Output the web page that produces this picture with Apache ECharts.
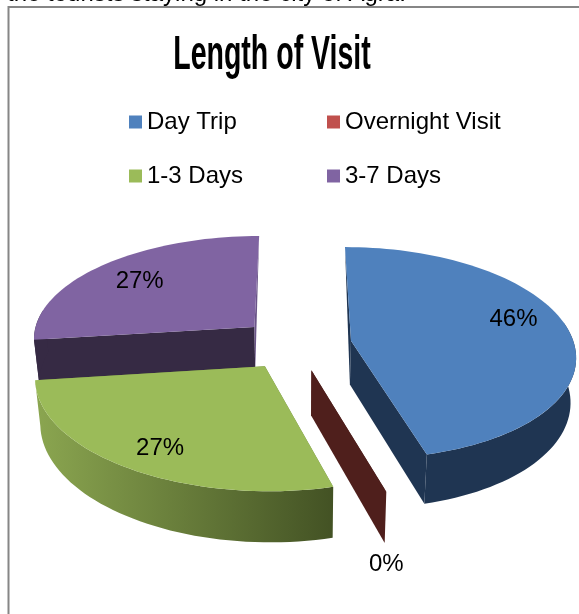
<!DOCTYPE html>
<html style="height: 100%">
<head>
    <meta charset="utf-8">
</head>
<body style="height: 100%; margin: 0; background: #fff">
<div id="container" style="width: 579px; height: 614px"></div>
<script type="text/javascript" src="https://cdn.jsdelivr.net/npm/echarts@6/dist/echarts.min.js"></script>
<script type="text/javascript">
    var categories = ['Day Trip', 'Overnight Visit', '1-3 Days', '3-7 Days'];
    var shares = [46, 0, 27, 27];

    var legendColors = ['#4f81bd', '#c0504d', '#9bbb59', '#8064a2'];
    var topColors = ['#4f81bd', '#4f1f1c', '#9bbb59', '#8064a2'];
    var wallColors = ['#1f3552', '#4f1f1c', '#6b8440', '#362a44'];
    var sliverColors = ['#1f3552', '#4f1f1c', '#6b8440', '#6a5488'];

    //pie plane seen in perspective
    var cx = 296, cy = 344;
    var scaleX = 223, scaleY = 105.1, persp = 0.115;
    var skew = 3.4;
    var depth = 44, shrink = 0.98;
    var explode = 0.25;

    //label: radius on the slice, angle shift, extra drop below the wall
    var labelR = [0.785, 1, 0.81, 0.735];
    var labelShift = [-8, 0, -2, -1];
    var labelDrop = [0, 73, 0, 0];
    //back slices first
    var drawOrder = [3, 0, 1, 2];

    var total = shares.reduce(function (a, b) { return a + b; }, 0);

    function sliceInfo(index) {
        var start = 0;
        for (var i = 0; i < index; i++) {
            start += shares[i] / total * 360;
        }
        var end = start + shares[index] / total * 360;
        var mid = (start + end) / 2 * Math.PI / 180;
        return {
            start: start,
            end: end,
            mid: (start + end) / 2,
            u: explode * Math.sin(mid),
            v: explode * Math.cos(mid)
        };
    }

    function project(u, v, low) {
        var d = 1 + persp * v;
        var k = low ? shrink : 1;
        return [
            //vanishing point is a bit off centre, near edge drifts right
            cx + scaleX * k * u / d + skew * v * (v - 1.16),
            cy - scaleY * v / d + (low ? depth / d : 0)
        ];
    }

    function onRim(info, deg, r, low) {
        var a = deg * Math.PI / 180;
        return project(info.u + r * Math.sin(a), info.v + r * Math.cos(a), low);
    }

    function rim(info, from, to, low) {
        var pts = [];
        var steps = Math.max(1, Math.ceil((to - from) / 2));
        for (var i = 0; i <= steps; i++) {
            pts.push(onRim(info, from + (to - from) * i / steps, 1, low));
        }
        return pts;
    }

    function poly(points, fill) {
        return {
            type: 'polygon',
            shape: {points: points},
            style: {fill: fill, stroke: null}
        };
    }

    //straight wall: full face if it looks at the viewer, else only the thin edge
    function straightWall(info, deg, facing, index) {
        var topApex = project(info.u, info.v, false);
        var lowApex = project(info.u, info.v, true);
        var tip = onRim(info, deg, 1, false);
        if (facing) {
            return poly([tip, topApex, lowApex, onRim(info, deg, 1, true)], wallColors[index]);
        }
        return poly([tip, topApex, lowApex], sliverColors[index]);
    }

    function renderSlice(index) {
        return function () {
            var info = sliceInfo(index);
            var children = [];
            var sinStart = Math.sin(info.start * Math.PI / 180);
            var sinEnd = Math.sin(info.end * Math.PI / 180);

            children.push(straightWall(info, info.start, sinStart < -0.01, index));
            children.push(straightWall(info, info.end, sinEnd > 0.01, index));

            if (shares[index] > 0) {
                var fill = wallColors[index];
                if (index === 2) {
                    fill = new echarts.graphic.LinearGradient(0, 0, 1, 0, [
                        {offset: 0, color: '#8ba650'},
                        {offset: 1, color: '#435224'}
                    ]);
                }
                //outer wall only on the near half
                var from = Math.max(info.start, 80);
                var to = Math.min(info.end, 280);
                if (to > from) {
                    children.push(poly(rim(info, from, to, false).concat(rim(info, from, to, true).reverse()), fill));
                }
                children.push(poly([project(info.u, info.v, false)].concat(rim(info, info.start, info.end, false)), topColors[index]));
            }

            var at = onRim(info, info.mid + labelShift[index], labelR[index], false);
            children.push({
                type: 'text',
                x: at[0],
                y: at[1] + labelDrop[index],
                style: {
                    text: shares[index] + '%',
                    fontFamily: 'Liberation Sans',
                    fontSize: 24,
                    fill: '#000',
                    align: 'center',
                    verticalAlign: 'middle'
                }
            });
            return {type: 'group', children: children};
        };
    }

    var dom = document.getElementById('container');
    var myChart = echarts.init(dom);

    var series = categories.map(function (name, i) {
        return {
            type: 'custom',
            name: name,
            coordinateSystem: 'none',
            z: 2 + drawOrder.indexOf(i),
            animation: false,
            silent: true,
            itemStyle: {color: legendColors[i]},
            renderItem: renderSlice(i),
            data: [[shares[i]]]
        };
    });

    function legendColumn(names, left) {
        return {
            data: names.map(function (n) { return {name: n, icon: 'rect'}; }),
            orient: 'vertical',
            left: left,
            top: 110,
            itemWidth: 13,
            itemHeight: 13,
            itemGap: 30,
            padding: 0,
            selectedMode: false,
            textStyle: {fontFamily: 'Liberation Sans', fontSize: 24, color: '#000'}
        };
    }

    var option = {
        animation: false,
        backgroundColor: '#fff',
        legend: [
            legendColumn([categories[0], categories[2]], 129),
            legendColumn([categories[1], categories[3]], 327)
        ],
        graphic: [
            {
                type: 'text', x: 7, y: -18, z: 1,
                style: {
                    text: 'the tourists staying in the city of Agra.',
                    fontFamily: 'Liberation Sans', fontSize: 24, fill: '#000'
                }
            },
            {
                type: 'polyline', z: 1,
                shape: {points: [[8.5, 614], [8.5, 7], [579, 7]]},
                style: {stroke: '#868686', lineWidth: 2, fill: null}
            },
            {
                type: 'text', x: 272, y: 55, z: 1, scaleX: 0.582, originX: 0,
                style: {
                    text: 'Length of Visit',
                    fontFamily: 'Liberation Sans', fontWeight: 'bold', fontSize: 49, fill: '#000',
                    align: 'center', verticalAlign: 'middle'
                }
            }
        ],
        series: series
    };
    myChart.setOption(option, true);
</script>
</body>
</html>
